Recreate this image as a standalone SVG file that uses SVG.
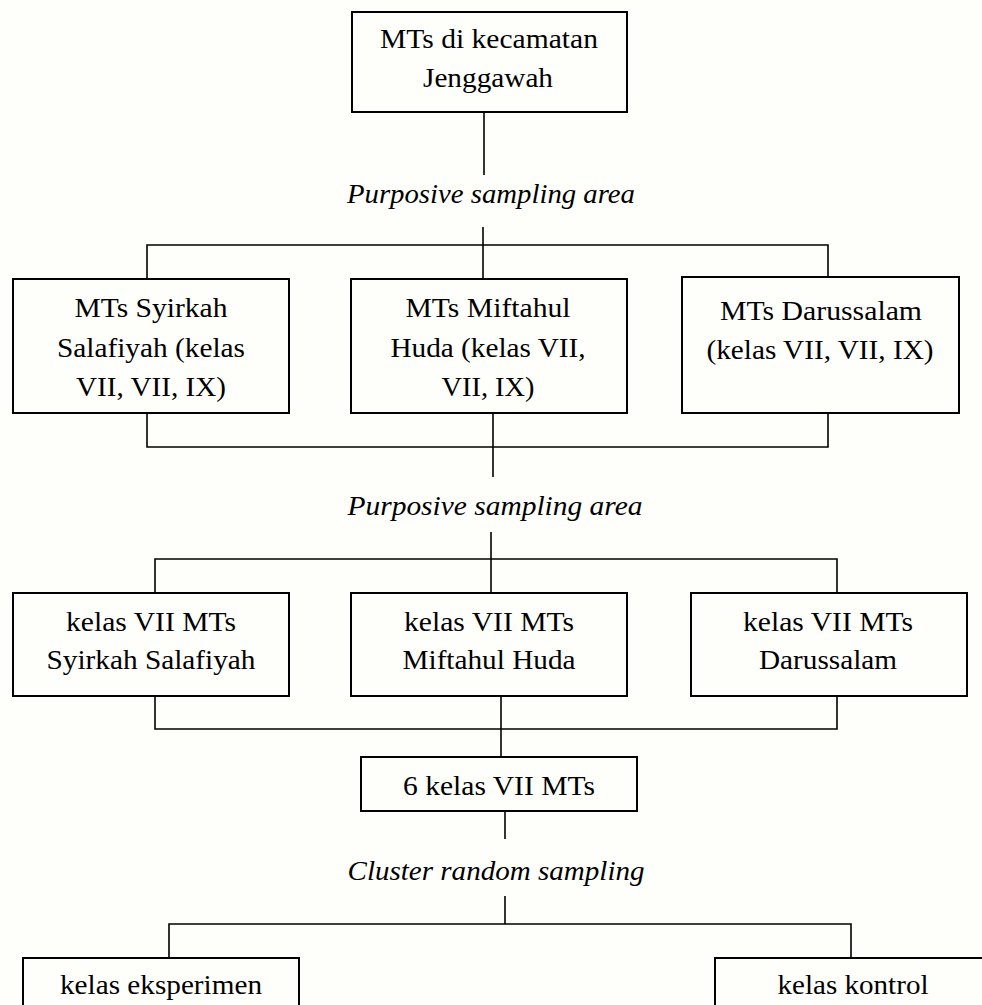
<svg xmlns="http://www.w3.org/2000/svg" width="982" height="1005" viewBox="0 0 982 1005">
<style>
.box{fill:none;stroke:#000;stroke-width:2}
.con{fill:none;stroke:#000;stroke-width:1.6}
text{font-family:"Liberation Serif","Times New Roman",serif;font-size:28px;fill:#000;text-anchor:middle}
.lbl{font-style:italic}
</style>
<rect x="0" y="0" width="982" height="1005" fill="#fefefb"/>
<g id="connectors">
<path class="con" d="M484 112V175"/>
<path class="con" d="M483 227V279"/>
<path class="con" d="M147 279V245H828V277"/>
<path class="con" d="M147 413V447H828V413"/>
<path class="con" d="M493 413V477"/>
<path class="con" d="M491 532V593"/>
<path class="con" d="M155 593V559H837V593"/>
<path class="con" d="M155 696V729H837V696"/>
<path class="con" d="M501 696V757"/>
<path class="con" d="M505 811V839"/>
<path class="con" d="M505 896V924"/>
<path class="con" d="M169 958V924H851V958"/>
</g>
<g id="n_top">
<rect class="box" x="352" y="12" width="275" height="100"/>
<text x="489" y="48" textLength="218" lengthAdjust="spacingAndGlyphs">MTs di kecamatan</text>
<text x="488" y="87" textLength="130" lengthAdjust="spacingAndGlyphs">Jenggawah</text>
</g>
<g id="lbl1">
<text class="lbl" x="491" y="203" textLength="288" lengthAdjust="spacingAndGlyphs">Purposive sampling area</text>
</g>
<g id="n_syirkah">
<rect class="box" x="13" y="279" width="276" height="134"/>
<text x="151" y="317" textLength="153" lengthAdjust="spacingAndGlyphs">MTs Syirkah</text>
<text x="151" y="357" textLength="188" lengthAdjust="spacingAndGlyphs">Salafiyah (kelas</text>
<text x="151" y="396" textLength="150" lengthAdjust="spacingAndGlyphs">VII, VII, IX)</text>
</g>
<g id="n_miftahul">
<rect class="box" x="351" y="279" width="276" height="134"/>
<text x="488" y="317" textLength="165" lengthAdjust="spacingAndGlyphs">MTs Miftahul</text>
<text x="488" y="357" textLength="195" lengthAdjust="spacingAndGlyphs">Huda (kelas VII,</text>
<text x="488" y="396" textLength="93" lengthAdjust="spacingAndGlyphs">VII, IX)</text>
</g>
<g id="n_darussalam">
<rect class="box" x="682" y="277" width="277" height="136"/>
<text x="821" y="320" textLength="202" lengthAdjust="spacingAndGlyphs">MTs Darussalam</text>
<text x="820" y="359" textLength="227" lengthAdjust="spacingAndGlyphs">(kelas VII, VII, IX)</text>
</g>
<g id="lbl2">
<text class="lbl" x="495" y="515" textLength="295" lengthAdjust="spacingAndGlyphs">Purposive sampling area</text>
</g>
<g id="n_k7_syirkah">
<rect class="box" x="13" y="593" width="276" height="103"/>
<text x="151" y="631" textLength="170" lengthAdjust="spacingAndGlyphs">kelas VII MTs</text>
<text x="151" y="669" textLength="209" lengthAdjust="spacingAndGlyphs">Syirkah Salafiyah</text>
</g>
<g id="n_k7_miftahul">
<rect class="box" x="351" y="593" width="276" height="103"/>
<text x="489" y="631" textLength="170" lengthAdjust="spacingAndGlyphs">kelas VII MTs</text>
<text x="489" y="669" textLength="173" lengthAdjust="spacingAndGlyphs">Miftahul Huda</text>
</g>
<g id="n_k7_darussalam">
<rect class="box" x="691" y="593" width="276" height="103"/>
<text x="828" y="631" textLength="170" lengthAdjust="spacingAndGlyphs">kelas VII MTs</text>
<text x="828" y="669" textLength="138" lengthAdjust="spacingAndGlyphs">Darussalam</text>
</g>
<g id="n_6kelas">
<rect class="box" x="361" y="757" width="276" height="54"/>
<text x="499" y="795" textLength="192" lengthAdjust="spacingAndGlyphs">6 kelas VII MTs</text>
</g>
<g id="lbl3">
<text class="lbl" x="496" y="880" textLength="297" lengthAdjust="spacingAndGlyphs">Cluster random sampling</text>
</g>
<g id="n_eksperimen">
<rect class="box" x="23" y="958" width="276" height="70"/>
<text x="161" y="994" textLength="202" lengthAdjust="spacingAndGlyphs">kelas eksperimen</text>
</g>
<g id="n_kontrol">
<rect class="box" x="715" y="958" width="276" height="70"/>
<text x="853" y="994" textLength="151" lengthAdjust="spacingAndGlyphs">kelas kontrol</text>
</g>
</svg>
